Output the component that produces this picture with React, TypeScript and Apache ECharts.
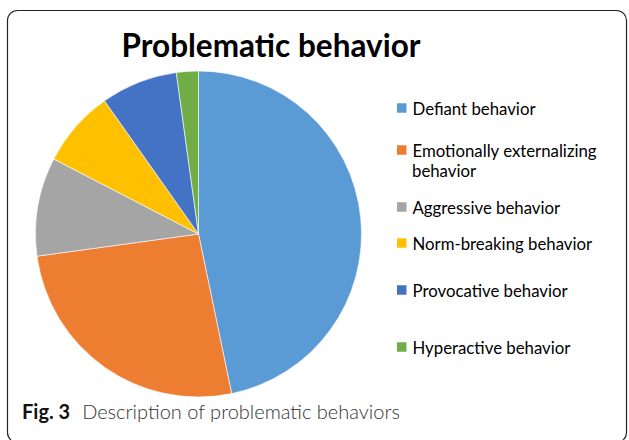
import React, { useEffect, useRef } from "react";
import * as echarts from "echarts";

const categories = [
  "Defiant behavior",
  "Emotionally externalizing behavior",
  "Aggressive behavior",
  "Norm-breaking behavior",
  "Provocative behavior",
  "Hyperactive behavior",
];
const values = [43, 24, 9, 7, 7, 2];
const colors = ["#5B9BD5", "#ED7D31", "#A5A5A5", "#FFC000", "#4472C4", "#70AD47"];
const legendCenters = [108, 150, 207, 243, 290, 347];

const FONT = "Lato, 'Open Sans', sans-serif";

export default function App() {
  const ref = useRef<HTMLDivElement>(null);
  useEffect(() => {
    if (!ref.current) return;
    const chart = echarts.init(ref.current, null, { renderer: "svg" });
    const legendFont = 16.8;
    const legends = categories.map((name, i) => ({
      data: [name],
      left: 395,
      top: legendCenters[i] - 10,
      padding: 0,
      itemWidth: 11.5,
      itemHeight: 11.5,
      itemGap: 6,
      icon: "rect",
      selectedMode: false,
      formatter: (n: string) =>
        n === "Emotionally externalizing behavior" ? "Emotionally externalizing" : n,
      textStyle: {
        fontFamily: FONT,
        fontSize: legendFont,
        color: "#000",
        height: 20,
        lineHeight: 20,
        padding: [0, 0, 0, 0],
      },
    }));
    chart.setOption({
      animation: false,
      color: colors,
      title: {
        text: "Problematic behavior",
        left: 266,
        textAlign: "center",
        top: 24,
        textStyle: {
          fontFamily: FONT,
          fontWeight: "bold",
          fontSize: 31.5,
          color: "#000",
        },
      },
      legend: legends,
      graphic: [
        {
          type: "rect",
          shape: { x: 7.5, y: 10.5, width: 619, height: 432, r: 10 },
          style: { fill: "none", stroke: "#222", lineWidth: 1.2 },
          silent: true,
        },
        {
          type: "text",
          left: 412,
          top: 162,
          style: {
            text: "behavior",
            fontFamily: FONT,
            fontSize: legendFont,
            fill: "#000",
          },
        },
        {
          type: "text",
          left: 22,
          top: 401,
          style: {
            text: "{b|Fig. 3}{s| }{r|Description of problematic behaviors}",
            rich: {
              b: { fontFamily: FONT, fontWeight: "bold", fontSize: 20, fill: "#111" },
              s: { fontFamily: FONT, fontSize: 20, width: 12 },
              r: { fontFamily: FONT, fontWeight: 300, fontSize: 20, fill: "#333" },
            },
          },
        },
      ],
      series: [
        {
          type: "pie",
          center: [198.5, 234],
          radius: 163,
          startAngle: 90,
          clockwise: true,
          label: { show: false },
          labelLine: { show: false },
          emphasis: { disabled: true },
          itemStyle: { borderColor: "#fff", borderWidth: 0.6 },
          data: categories.map((name, i) => ({ name, value: values[i] })),
        },
      ],
    });
    return () => chart.dispose();
  }, []);
  return (
    <div
      ref={ref}
      style={{ position: "fixed", left: 0, top: 0, width: 629, height: 440, background: "#fff" }}
    />
  );
}
